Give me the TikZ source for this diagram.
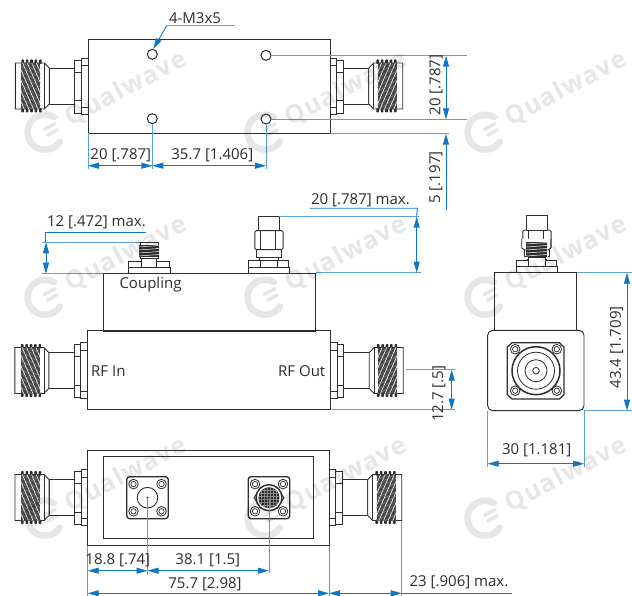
\documentclass[tikz,border=0pt]{standalone}
\usepackage{fontspec}
\setmainfont{Open Sans}
\newfontfamily\wmfont[LetterSpace=5]{Open Sans}
\usetikzlibrary{arrows.meta}
\definecolor{ink}{RGB}{45,45,45}
\definecolor{dimblue}{RGB}{15,118,200}
\definecolor{extblue}{RGB}{85,160,218}
\definecolor{wm}{RGB}{230,230,230}
\tikzset{
  part/.style={draw=ink,line width=0.9pt,fill=white},
  bodyline/.style={draw=ink,line width=0.95pt},
  extl/.style={draw=extblue,line width=1pt},
  diml/.style={draw=dimblue,line width=0.9pt},
  both/.style={diml,{Triangle[length=11pt,width=6pt]}-{Triangle[length=11pt,width=6pt]}},
  onestart/.style={diml,{Triangle[length=11pt,width=6pt]}-},
  oneend/.style={diml,-{Triangle[length=11pt,width=6pt]}},
  lbl/.style={font=\fontsize{15pt}{16pt}\selectfont,text=ink,inner sep=0pt},
  lblv/.style={lbl,rotate=90},
  nconn/.pic={
    \draw[part] (-38.7,-18) rectangle (-13.3,18);
    \draw[part] (-72.7,-23) -- (-43.7,-23) -- (-38.7,-18) -- (-38.7,18) -- (-43.7,23) -- (-72.7,23) -- cycle;
    \draw[ink,line width=0.6pt] (-43.7,-23) -- (-43.7,23);
    \foreach \i in {0,...,4}{
      \fill[ink,rounded corners=0.8pt] ({-66.6+\i*4.4},-26.5) rectangle ({-64+\i*4.4},-22);
      \fill[ink,rounded corners=0.8pt] ({-66.6+\i*4.4},22) rectangle ({-64+\i*4.4},26.5);
    }
    \begin{scope}
      \clip (-67.3,-23) rectangle (-47.3,23);
      \fill[ink!88] (-66.8,-23) rectangle (-47.8,23);
      \foreach \i in {-9,...,0}{
        \draw[white,line width=0.65pt] ({-47+\i*4.6},-23) -- ({-47+\i*4.6+20},23);
      }
      \foreach \i in {-5,...,5}{
        \draw[ink!55,line width=0.4pt] (-67,{\i*4.5-6}) -- (-47,{\i*4.5+6});
      }
    \end{scope}
    \draw[part] (-13.3,-26) rectangle (-6.7,-13.7);
    \draw[part] (-13.3,14.7) rectangle (-6.7,27.3);
    \draw[part] (-6.7,-28) rectangle (0,28);
    \draw[ink,line width=0.9pt] (-6.7,-20.5) -- (0,-20.5) (-6.7,21) -- (0,21);
  },
  hole/.pic={
    \draw[ink,line width=0.8pt,fill=white] (0,0) circle (4.8);
    \draw[ink,line width=0.7pt] (0,0) circle (2.7);
  },
  squareflange/.pic={
    \draw[ink,line width=1.3pt,fill=white,rounded corners=3pt] (-20.8,-21) rectangle (20.8,21);
    \path (-14,-13.6) pic {hole} (14,-13.6) pic {hole} (-14,13.6) pic {hole} (14,13.6) pic {hole};
  },
  smatop/.pic={
    \draw[part] (-20.5,-6.4) rectangle (20.5,0);
    \draw[part] (-20,-12.7) rectangle (-7.5,-6.4);
    \draw[part] (7.5,-12.7) rectangle (20,-6.4);
    \draw[part] (-8.5,-13.7) rectangle (8.3,-6.4);
    \draw[part] (-9.8,-16) rectangle (9.8,-12.7);
    \draw[part] (-12.6,-23.7) rectangle (12.6,-16);
    \draw[part,rounded corners=1.5pt] (-14,-42.7) rectangle (14.3,-23.7);
    \draw[ink,line width=0.8pt] (-8.2,-42.7) -- (-8.2,-23.7) (7,-42.7) -- (7,-23.7);
    \draw[part] (-10.8,-57) rectangle (10.5,-42.7);
  }
}
\newcommand{\wmlogo}[2]{%
  \begin{scope}[shift={(#1,#2)},rotate=28]
    \draw[wm,line width=6.5pt,line cap=round] (17,-9) arc[start angle=-32,end angle=-300,radius=17.5];
    \draw[wm,line width=3.6pt,line cap=round] (3,-2.6) -- (15,-2.6);
    \draw[wm,line width=3.6pt,line cap=round] (3,4) -- (14,4);
    \node[anchor=west,inner sep=0pt,text=wm,rotate=28,font=\fontsize{25pt}{25pt}\selectfont\wmfont\bfseries] at (27,0) {Qualwave};
  \end{scope}%
}
\begin{document}
\begin{tikzpicture}[x=1pt,y=-1pt]
\useasboundingbox (0,0) rectangle (632,596);
\fill[white] (0,0) rectangle (632,596);
% ---------- top view
\draw[bodyline] (88,39) rectangle (330,133.5);
\path (88,86) pic {nconn};
\path (330,86) pic[xscale=-1] {nconn};
\draw[ink,line width=1pt] (152.3,54.3) circle (5) (266,55.3) circle (5) (152.3,118.7) circle (5) (266,119) circle (5);
\coordinate (lead) at (153.3,49);
\coordinate (leadk) at (166.7,25.7);
\coordinate (leade) at (235,25.7);
\draw[extl] (leadk) -- (leade);
\draw[oneend] (leadk) -- (lead);
\node[lbl] (tM) at (195,18) {4-M3x5};
\coordinate (a0) at (88,165.7);
\coordinate (a1) at (152.3,165.7);
\coordinate (a2) at (266,165.7);
\draw[extl] (88,133.5) -- (88,169) (152.3,123.7) -- (152.3,169) (266,124) -- (266,169);
\draw[both] (a0) -- (a1);
\draw[both] (a1) -- (a2);
\node[lbl] (t20) at (120.8,155) {20 [.787]};
\node[lbl] (t357) at (212.3,155) {35.7 [1.406]};
\draw[extl] (271,55.7) -- (466.7,55.7) (271,119.3) -- (466.7,119.3) (330,133.7) -- (449.3,133.7);
\coordinate (b0) at (446,55.7);
\coordinate (b1) at (446,119.3);
\coordinate (b2) at (446,133.7);
\coordinate (b3) at (446,210);
\draw[both] (b0) -- (b1);
\draw[onestart] (b2) -- (b3);
\node[lblv] (t20v) at (436,85) {20 [.787]};
\node[lblv] (t5v) at (436,177.5) {5 [.197]};
% ---------- front view
\draw[bodyline] (103,273.7) rectangle (315.3,331);
\draw[bodyline] (87.5,330.7) rectangle (330.5,409.7);
\path (87.5,370.5) pic {nconn};
\path (330.5,370.5) pic[xscale=-1] {nconn};
% female SMA (coupling)
\draw[part] (128.7,267.3) rectangle (170,273.4);
\draw[part] (128.7,261) rectangle (141.7,267.3);
\draw[part] (156.7,261) rectangle (169.3,267.3);
\draw[part] (141.7,256.7) rectangle (156.7,267.3);
\draw[part] (140,242.3) rectangle (158.7,258);
\fill[ink] (138.7,245.5) rectangle (159.3,257.5);
\foreach \t in {0,...,3}{\draw[white,line width=0.5pt] (139,{247+\t*3}) -- (159,{245.5+\t*3});}
\node[lbl] (tC) at (150.5,285) {Coupling};
\node[lbl,anchor=west] (tI) at (91,371) {RF In};
\node[lbl,anchor=east] (tO) at (325.5,371) {RF Out};
\path (268.8,273.4) pic {smatop};
\draw[extl] (279.3,216.7) -- (419.3,216.7) (315.7,272.7) -- (420.7,272.7);
\draw[diml] (310,208.3) -- (417.3,208.3) -- (416.7,216.7);
\coordinate (c0) at (416.7,216.7);
\coordinate (c1) at (416.7,272.7);
\draw[both] (c0) -- (c1);
\node[lbl] (tmax1) at (360.5,200) {20 [.787] max.};
\draw[diml] (146,232) -- (45.7,232) -- (45.7,242.3);
\draw[extl] (41.7,242.3) -- (140,242.3) (41.7,273.7) -- (103,273.7);
\coordinate (d0) at (46,242.3);
\coordinate (d1) at (46,273.7);
\draw[both] (d0) -- (d1);
\node[lbl] (tmax2) at (96.5,222) {12 [.472] max.};
\draw[extl] (405.7,369.7) -- (455,369.7) (332,409.7) -- (455,409.7);
\coordinate (e0) at (451.7,369.7);
\coordinate (e1) at (451.7,409.7);
\draw[both] (e0) -- (e1);
\node[lblv] (t127) at (439,393.7) {12.7 [.5]};
% ---------- side view
\path (536.8,272.7) pic {smatop};
\fill[white] (526,240) rectangle (547.5,259);
\draw[part] (521.7,239) -- (521.7,248) -- (525,250) -- (548,250) -- (550.7,248) -- (550.7,239);
\fill[ink] (525.7,242) rectangle (547.3,257.3);
\foreach \t in {0,...,4}{\draw[white,line width=0.5pt] (526,{244+\t*3}) -- (547,{242.5+\t*3});}
\draw[part] (528.3,257.5) rectangle (545,266.7);
\draw[bodyline] (494.7,272.7) rectangle (576.7,331);
\draw[bodyline,fill=white,rounded corners=5pt] (487.7,330.3) rectangle (584,410.7);
\draw[ink,line width=1.2pt,fill=white] (512,342.7) -- (559.5,342.7) -- (564,347.2) -- (564,394.5) -- (559.5,399) -- (512,399) -- (507.3,394.5) -- (507.3,347.2) -- cycle;
\path (515.2,349.2) pic {hole} (556.8,349.2) pic {hole} (515.2,390.7) pic {hole} (556.8,390.7) pic {hole};
\draw[ink,line width=1.5pt,fill=white] (536,370.7) circle (24);
\draw[ink,line width=0.8pt] (536,370.7) circle (18.5) (536,370.7) circle (11) (536,370.7) circle (3.3);
\draw[extl] (576.7,272.7) -- (631.7,272.7) (584,410.7) -- (631.7,410.7);
\coordinate (f0) at (627,272.7);
\coordinate (f1) at (627,410.7);
\draw[both] (f0) -- (f1);
\node[lblv] (t434) at (616.7,347.3) {43.4 [1.709]};
\draw[extl] (487.7,410.7) -- (487.7,466.7) (584,410.7) -- (584,466.7);
\coordinate (g0) at (487.7,463.7);
\coordinate (g1) at (584,463.7);
\draw[both] (g0) -- (g1);
\node[lbl] (t30) at (536.7,450.7) {30 [1.181]};
% ---------- bottom view
\draw[bodyline] (87.7,450.3) rectangle (329,545.7);
\draw[bodyline] (103.7,456.7) rectangle (313.3,538.7);
\path (87.7,497.5) pic {nconn};
\path (329,497.5) pic[xscale=-1] {nconn};
\path (147.5,497.7) pic {squareflange};
\draw[ink,line width=0.9pt] (147.5,497.7) circle (10.3);
\fill[ink] (147.5,497.7) circle (1.2);
\path (269,497.7) pic {squareflange};
\draw[ink,line width=0.9pt] (261,487) -- (277,487) -- (284,497.7) -- (277,508.4) -- (261,508.4) -- (254,497.7) -- cycle;
\draw[ink,line width=1.4pt,fill=white] (269,497.7) circle (13);
\fill[ink] (269,497.7) circle (10.5);
\foreach \q in {-8,-5,...,8}{\draw[ink!55,line width=0.3pt] ({269-sqrt(110-\q*\q)},{497.7+\q}) -- ({269+sqrt(110-\q*\q)},{497.7+\q}) ({269+\q},{497.7-sqrt(110-\q*\q)}) -- ({269+\q},{497.7+sqrt(110-\q*\q)});}
\draw[extl] (87.7,545.7) -- (87.7,596) (329,545.7) -- (329,596) (401.7,520.7) -- (401.7,596);
\draw[extl] (147.5,498) -- (147.5,575) (269,498) -- (269,573);
\coordinate (h0) at (87.7,570.7);
\coordinate (h1) at (147.5,570.7);
\coordinate (h2) at (269,570.7);
\draw[both] (h0) -- (h1);
\draw[both] (h1) -- (h2);
\node[lbl] (t188) at (117.8,560) {18.8 [.74]};
\node[lbl] (t381) at (207.8,560) {38.1 [1.5]};
\coordinate (i0) at (87.7,593.3);
\coordinate (i1) at (329,593.3);
\coordinate (i2) at (401.7,593.3);
\coordinate (i3) at (511.7,593.3);
\draw[both] (i0) -- (i1);
\draw[both] (i1) -- (i2);
\draw[diml] (i2) -- (i3);
\node[lbl] (t757) at (205,584.3) {75.7 [2.98]};
\node[lbl] (t23) at (459,582) {23 [.906] max.};
% watermarks, laid over the drawing as in the reference
\begin{scope}[blend mode=multiply]
\foreach \wy in {133,298,519}{
  \foreach \wx in {43,263,483}{ \wmlogo{\wx}{\wy} }
}
\end{scope}
\end{tikzpicture}
\end{document}
